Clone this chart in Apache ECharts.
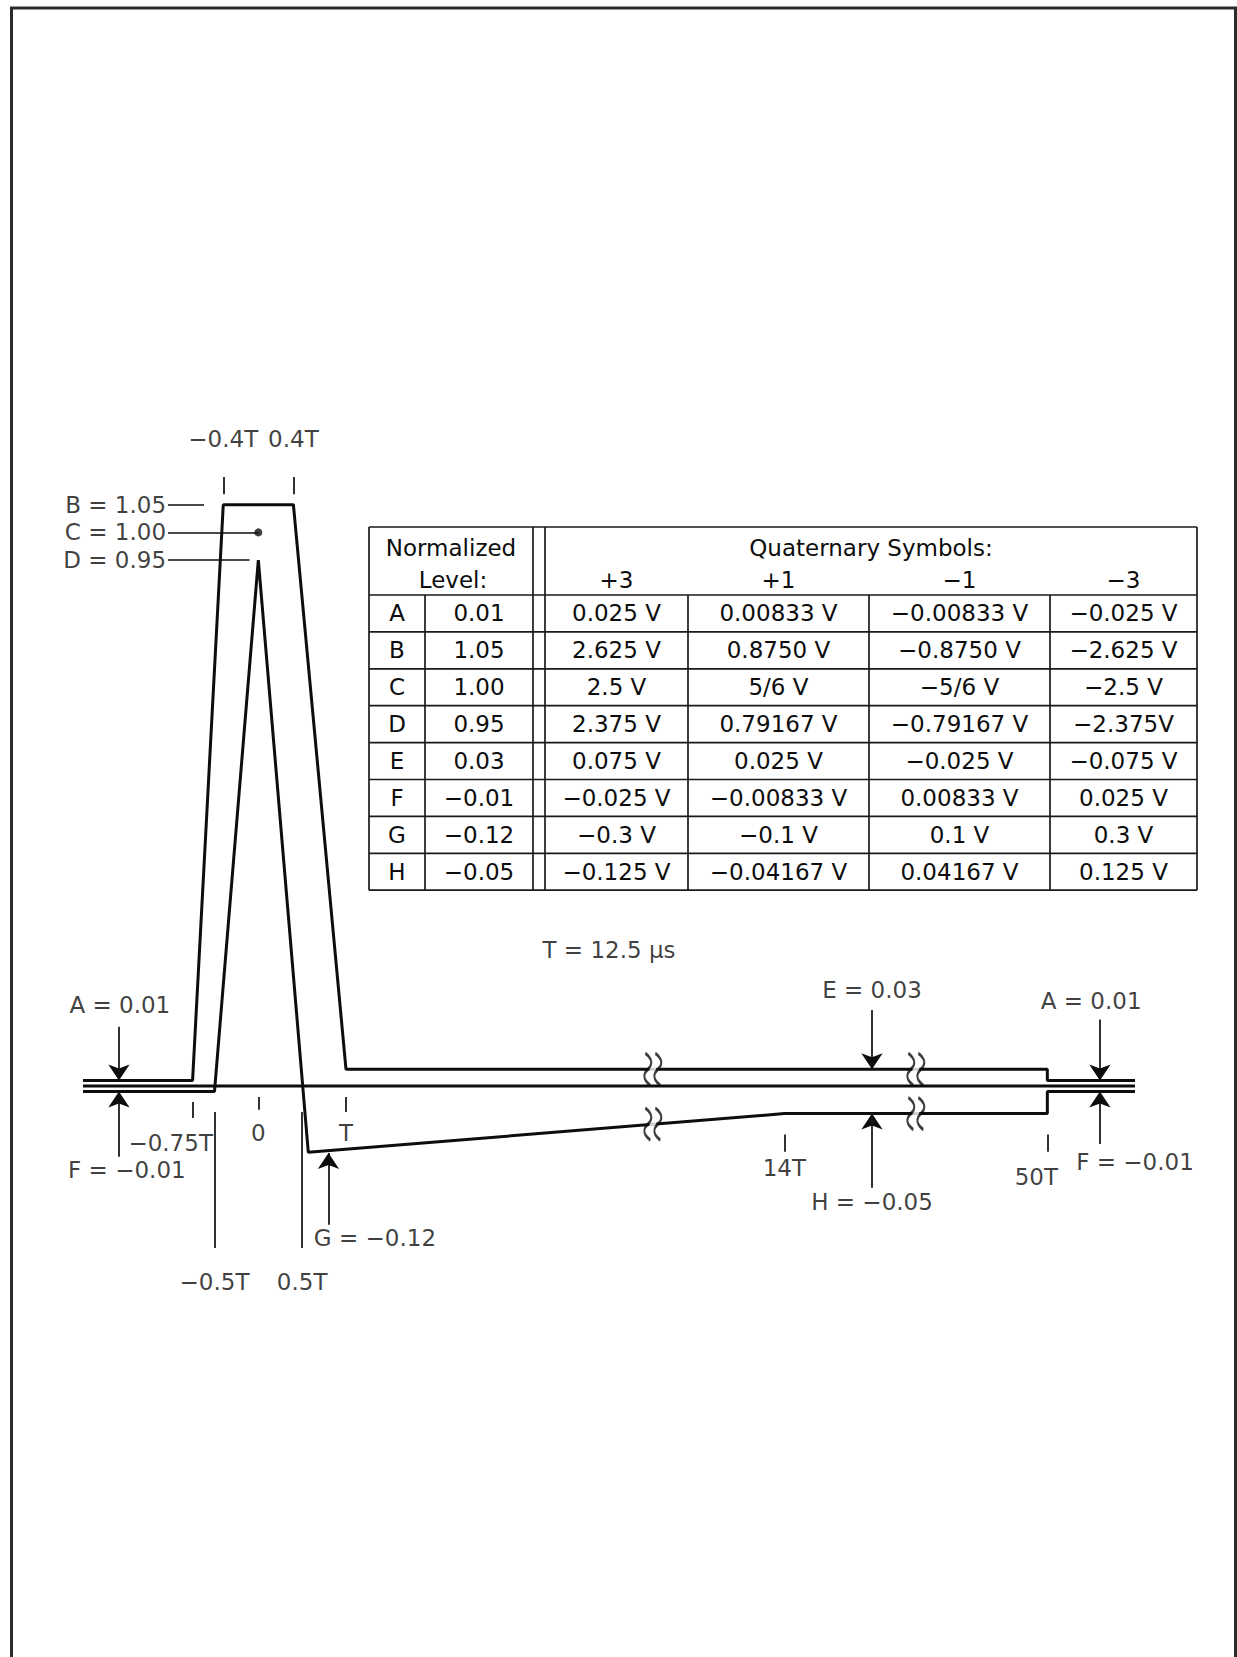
<!DOCTYPE html>
<html>
<head>
<meta charset="utf-8">
<script src="https://cdn.jsdelivr.net/npm/echarts@6/dist/echarts.min.js"></script>
<style>
html,body{margin:0;padding:0;background:#fff;}
#chart{width:1237px;height:1657px;}
</style>
</head>
<body>
<div id="chart"></div>
<script>
// ---------------- data ----------------
const levelNames = ['A', 'B', 'C', 'D', 'E', 'F', 'G', 'H'];
const levelValues = [0.01, 1.05, 1.00, 0.95, 0.03, -0.01, -0.12, -0.05];
const symbolHeaders = ['+3', '+1', '\u22121', '\u22123'];
const voltsPlus3 = ['0.025 V', '2.625 V', '2.5 V', '2.375 V', '0.075 V', '\u22120.025 V', '\u22120.3 V', '\u22120.125 V'];
const voltsPlus1 = ['0.00833 V', '0.8750 V', '5/6 V', '0.79167 V', '0.025 V', '\u22120.00833 V', '\u22120.1 V', '\u22120.04167 V'];
const voltsMinus1 = ['\u22120.00833 V', '\u22120.8750 V', '\u22125/6 V', '\u22120.79167 V', '\u22120.025 V', '0.00833 V', '0.1 V', '0.04167 V'];
const voltsMinus3 = ['\u22120.025 V', '\u22122.625 V', '\u22122.5 V', '\u22122.375V', '\u22120.075 V', '0.025 V', '0.3 V', '0.125 V'];

// mask corner times (in units of T) and the level used at each corner
const upperMaskT = [-2, -0.75, -0.4, 0.4, 1, 50, 50, 51];
const upperMaskLevel = ['A', 'A', 'B', 'B', 'E', 'E', 'A', 'A'];
const lowerMaskT = [-2, -0.5, 0, 0.57, 14, 50, 50, 51];
const lowerMaskLevel = ['F', 'F', 'D', 'G', 'H', 'H', 'F', 'F'];

// time tick labels
const bottomTickT = [-0.75, 0, 1, 14, 50];
const bottomTickLabels = ['\u22120.75T', '0', 'T', '14T', '50T'];
const topTickT = [-0.4, 0.4];
const topTickLabels = ['\u22120.4T', '0.4T'];
const longTickT = [-0.5, 0.5];
const longTickLabels = ['\u22120.5T', '0.5T'];
const periodLabel = 'T = 12.5 \u03bcs';

// ---------------- helpers ----------------
const lv = n => levelValues[levelNames.indexOf(n)];
const fmt = v => (v < 0 ? '\u2212' : '') + Math.abs(v).toFixed(2);
const upperMask = upperMaskT.map((t, i) => [t, lv(upperMaskLevel[i])]);
const lowerMask = lowerMaskT.map((t, i) => [t, lv(lowerMaskLevel[i])]);

const FONT = 'DejaVu Sans';
const INK = '#0d0d0d';

// tick / leader segments
const segs = [];
segs.push({coords: [[bottomTickT[0], -0.029], [bottomTickT[0], -0.058]]});
segs.push({coords: [[bottomTickT[1], -0.02], [bottomTickT[1], -0.043]]});
segs.push({coords: [[bottomTickT[2], -0.02], [bottomTickT[2], -0.047]]});
segs.push({coords: [[bottomTickT[3], -0.088], [bottomTickT[3], -0.119]]});
segs.push({coords: [[bottomTickT[4], -0.088], [bottomTickT[4], -0.119]]});
topTickT.forEach(t => segs.push({coords: [[t, 1.10], [t, 1.069]]}));
longTickT.forEach(t => segs.push({coords: [[t, -0.047], [t, -0.293]]}));
// leaders for B, C, D
segs.push({coords: [[-1.03, lv('B')], [-0.62, lv('B')]]});
segs.push({coords: [[-1.03, lv('C')], [0, lv('C')]]});
segs.push({coords: [[-1.03, lv('D')], [-0.1, lv('D')]]});

// arrows (tail -> head)
const arrows = [
  {coords: [[-1.59, 0.107], [-1.59, lv('A')]]},
  {coords: [[-1.59, -0.128], [-1.59, lv('F')]]},
  {coords: [[0.8, -0.251], [0.8, -0.121]]},
  {coords: [[15.0, 0.137], [15.0, lv('E')]]},
  {coords: [[15.0, -0.184], [15.0, lv('H')]]},
  {coords: [[50.6, 0.12], [50.6, lv('A')]]},
  {coords: [[50.6, -0.105], [50.6, lv('F')]]}
];

// text labels placed in data coordinates
const texts = [
  {name: 'B = ' + fmt(lv('B')), value: [-1.03, lv('B')], label: {position: 'left', distance: 2}},
  {name: 'C = ' + fmt(lv('C')), value: [-1.03, lv('C')], label: {position: 'left', distance: 2}},
  {name: 'D = ' + fmt(lv('D')), value: [-1.03, lv('D')], label: {position: 'left', distance: 2}},
  {name: 'A = ' + fmt(lv('A')), value: [-1.58, 0.146]},
  {name: 'F = ' + fmt(lv('F')), value: [-1.5, -0.152]},
  {name: 'G = ' + fmt(lv('G')), value: [1.33, -0.275]},
  {name: 'E = ' + fmt(lv('E')), value: [15.0, 0.173]},
  {name: 'H = ' + fmt(lv('H')), value: [15.0, -0.21]},
  {name: 'A = ' + fmt(lv('A')), value: [50.5, 0.154]},
  {name: 'F = ' + fmt(lv('F')), value: [51.0, -0.137]},
  {name: periodLabel, value: [4.0, 0.246]},
  {name: bottomTickLabels[0], value: [-1.0, -0.103]},
  {name: bottomTickLabels[1], value: [bottomTickT[1], -0.085]},
  {name: bottomTickLabels[2], value: [bottomTickT[2], -0.085]},
  {name: bottomTickLabels[3], value: [bottomTickT[3], -0.148]},
  {name: bottomTickLabels[4], value: [bottomTickT[4], -0.164], label: {offset: [-11, 0]}},
  {name: topTickLabels[0], value: [topTickT[0], 1.169]},
  {name: topTickLabels[1], value: [topTickT[1], 1.169]},
  {name: longTickLabels[0], value: [longTickT[0], -0.354]},
  {name: longTickLabels[1], value: [longTickT[1], -0.354]}
];

// break squiggles on both mask lines
const squiggles = [[4.5, lv('E')], [4.5, -0.069], [15.5, lv('E')], [15.5, lv('H')]];
const squigglePath = 'path://M3,0 C9,5 9,10 5,14 C1,18 1,23 7,28 M11,0 C17,5 17,10 13,14 C9,18 9,23 15,28';

// ---------------- table (graphic) ----------------
const tbl = {left: 369, right: 1197, top: 527, headBottom: 595, rowH: 36.9,
  colLetter: 425, dbl1: 533, dbl2: 545, symCols: [545, 688, 869, 1050, 1197]};
const g = [];
const line = (x1, y1, x2, y2, w) => g.push({type: 'line', shape: {x1, y1, x2, y2},
  style: {stroke: '#1a1a1a', lineWidth: w || 1.7}, silent: true});
const txt = (s, x, y) => g.push({type: 'text', silent: true,
  style: {text: s, x, y, fill: INK, fontSize: 23, fontFamily: FONT,
    align: 'center', textAlign: 'center', verticalAlign: 'middle', textVerticalAlign: 'middle'}});
const bottom = tbl.headBottom + tbl.rowH * levelNames.length;
line(tbl.left, tbl.top, tbl.right, tbl.top);
for (let i = 0; i <= levelNames.length; i++) {
  const y = tbl.headBottom + tbl.rowH * i;
  line(tbl.left, y, tbl.right, y);
}
[tbl.left, tbl.dbl1, tbl.dbl2, tbl.right].forEach(x => line(x, tbl.top, x, bottom));
[tbl.colLetter, tbl.symCols[1], tbl.symCols[2], tbl.symCols[3]].forEach(x => line(x, tbl.headBottom, x, bottom));
txt('Normalized', (tbl.left + tbl.dbl1) / 2, 548);
txt('Level:', (tbl.left + tbl.dbl1) / 2 + 2, 580);
txt('Quaternary Symbols:', (tbl.dbl2 + tbl.right) / 2, 548);
symbolHeaders.forEach((h, j) => txt(h, (tbl.symCols[j] + tbl.symCols[j + 1]) / 2, 580));
const symCols = [voltsPlus3, voltsPlus1, voltsMinus1, voltsMinus3];
levelNames.forEach((n, i) => {
  const y = tbl.headBottom + tbl.rowH * (i + 0.5);
  txt(n, (tbl.left + tbl.colLetter) / 2, y);
  txt(fmt(levelValues[i]), (tbl.colLetter + tbl.dbl1) / 2, y);
  symCols.forEach((col, j) => txt(col[i], (tbl.symCols[j] + tbl.symCols[j + 1]) / 2, y));
});
// outer frame
g.push({type: 'rect', silent: true, shape: {x: 11.5, y: 8, width: 1224, height: 1680},
  style: {fill: 'none', stroke: '#2a2a2a', lineWidth: 3}});

// ---------------- chart ----------------
const chart = echarts.init(document.getElementById('chart'), null, {renderer: 'svg'});
chart.setOption({
  animation: false,
  backgroundColor: '#fff',
  grid: {left: 83, right: 102, top: 394, bottom: 322, containLabel: false},
  xAxis: {
    type: 'value', min: -2, max: 51,
    breaks: [{start: 4.5, end: 12.5, gap: 0}, {start: 15.5, end: 48.5, gap: 0}],
    breakArea: {show: false},
    axisLine: {show: false}, axisTick: {show: false}, axisLabel: {show: false}, splitLine: {show: false}
  },
  yAxis: {
    type: 'value', min: -0.45, max: 1.25,
    axisLine: {show: false}, axisTick: {show: false}, axisLabel: {show: false}, splitLine: {show: false}
  },
  graphic: g,
  series: [
    {type: 'line', name: 'baseline', data: [[-2, 0], [51, 0]], showSymbol: false, silent: true,
      lineStyle: {color: INK, width: 3}, z: 2},
    {type: 'line', name: 'upper mask', data: upperMask, showSymbol: false, silent: true,
      lineStyle: {color: INK, width: 3}, z: 3},
    {type: 'line', name: 'lower mask', data: lowerMask, showSymbol: false, silent: true,
      lineStyle: {color: INK, width: 3}, z: 3},
    {type: 'lines', coordinateSystem: 'cartesian2d', data: segs, silent: true,
      lineStyle: {color: INK, width: 1.7, opacity: 1}, z: 4},
    {type: 'lines', coordinateSystem: 'cartesian2d', data: arrows, silent: true,
      symbol: ['none', 'arrow'], symbolSize: [9, 16],
      lineStyle: {color: INK, width: 1.7, opacity: 1}, z: 4},
    {type: 'scatter', name: 'C point', data: [[0, lv('C')]], symbolSize: 8, silent: true,
      itemStyle: {color: INK}, z: 5},
    {type: 'scatter', name: 'break gaps', data: squiggles, symbol: 'rect', symbolSize: [7, 12],
      silent: true, itemStyle: {color: '#fff'}, z: 6},
    {type: 'scatter', name: 'breaks', data: squiggles, symbol: squigglePath, symbolSize: [17, 32],
      silent: true, itemStyle: {color: 'rgba(0,0,0,0)', borderColor: INK, borderWidth: 2.6}, z: 7},
    {type: 'scatter', name: 'labels', data: texts, symbolSize: 0, silent: true, z: 8,
      label: {show: true, position: 'inside', formatter: '{b}', color: INK,
        fontSize: 23, fontFamily: FONT}}
  ]
});
</script>
</body>
</html>
